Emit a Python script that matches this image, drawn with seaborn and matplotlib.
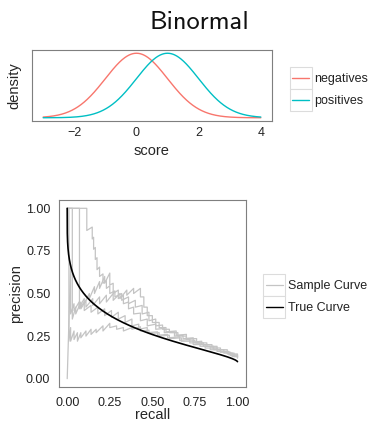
import math
import numpy as np
import pandas as pd
import matplotlib
matplotlib.use("Agg")
import matplotlib.pyplot as plt
from matplotlib.patches import Rectangle
from matplotlib.lines import Line2D
import seaborn as sns

# ---- binormal model -------------------------------------------------------
class_names = ["negatives", "positives"]
class_colors = ["#F8766D", "#00BFC4"]
class_means = [0.0, 1.0]
class_sd = 1.0
positive_share = 0.1
score_range = [-3.0, 4.0]
score_ticks = [-2, 0, 2, 4]

pr_ticks = [0.0, 0.25, 0.5, 0.75, 1.0]
pr_tick_labels = ["0.00", "0.25", "0.50", "0.75", "1.00"]
curve_names = ["Sample Curve", "True Curve"]
curve_colors = ["#c4c4c4", "black"]

# ---- empirical precision-recall paths (recall, precision) -----------------
sample_1 = [(0, 1), (0.115, 1), (0.115, 0.87), (0.147, 0.89), (0.147, 0.82),
            (0.155, 0.83), (0.155, 0.76), (0.165, 0.77), (0.165, 0.70),
            (0.175, 0.71), (0.175, 0.64), (0.19, 0.655), (0.19, 0.60),
            (0.21, 0.615), (0.21, 0.56), (0.23, 0.575), (0.23, 0.53),
            (0.25, 0.545), (0.25, 0.50), (0.28, 0.515), (0.28, 0.48),
            (0.32, 0.50), (0.32, 0.46), (0.36, 0.48), (0.36, 0.44),
            (0.40, 0.46), (0.40, 0.42), (0.44, 0.43), (0.44, 0.38),
            (0.48, 0.39), (0.48, 0.34), (0.52, 0.35), (0.52, 0.31),
            (0.56, 0.315), (0.56, 0.29), (0.60, 0.29), (0.60, 0.27),
            (0.65, 0.27), (0.65, 0.25), (0.70, 0.25), (0.70, 0.23),
            (0.75, 0.225), (0.75, 0.21), (0.80, 0.21), (0.80, 0.19),
            (0.86, 0.19), (0.86, 0.17), (0.92, 0.17), (0.92, 0.15),
            (0.97, 0.15), (0.97, 0.13), (1.0, 0.13)]
sample_2 = [(0, 1), (0.072, 1), (0.072, 0.42), (0.10, 0.47), (0.10, 0.44),
            (0.13, 0.50), (0.13, 0.47), (0.16, 0.54), (0.16, 0.50),
            (0.19, 0.57), (0.19, 0.53), (0.22, 0.60), (0.22, 0.56),
            (0.25, 0.62), (0.25, 0.55), (0.27, 0.56), (0.27, 0.50),
            (0.30, 0.52), (0.30, 0.47), (0.33, 0.49), (0.33, 0.44),
            (0.36, 0.45), (0.36, 0.41), (0.39, 0.42), (0.39, 0.38),
            (0.43, 0.385), (0.43, 0.34), (0.47, 0.35), (0.47, 0.31),
            (0.52, 0.32), (0.52, 0.29), (0.57, 0.295), (0.57, 0.27),
            (0.63, 0.275), (0.63, 0.25), (0.68, 0.255), (0.68, 0.235),
            (0.74, 0.24), (0.74, 0.215), (0.79, 0.22), (0.79, 0.20),
            (0.85, 0.20), (0.85, 0.18), (0.90, 0.18), (0.90, 0.16),
            (0.95, 0.16), (0.95, 0.14), (1.0, 0.14), (1.0, 0.125)]
sample_3 = [(0, 1), (0.03, 1), (0.03, 0.35), (0.05, 0.42), (0.05, 0.38),
            (0.08, 0.45), (0.08, 0.41), (0.11, 0.46), (0.11, 0.42),
            (0.15, 0.47), (0.15, 0.43), (0.19, 0.48), (0.19, 0.44),
            (0.23, 0.49), (0.23, 0.45), (0.27, 0.50), (0.27, 0.46),
            (0.31, 0.50), (0.31, 0.47), (0.35, 0.52), (0.35, 0.49),
            (0.39, 0.53), (0.39, 0.50), (0.43, 0.53), (0.43, 0.48),
            (0.45, 0.48), (0.45, 0.42), (0.47, 0.42), (0.47, 0.37),
            (0.50, 0.37), (0.50, 0.33), (0.54, 0.33), (0.54, 0.30),
            (0.58, 0.30), (0.58, 0.275), (0.64, 0.28), (0.64, 0.255),
            (0.70, 0.26), (0.70, 0.235), (0.76, 0.235), (0.76, 0.21),
            (0.82, 0.21), (0.82, 0.19), (0.88, 0.19), (0.88, 0.17),
            (0.94, 0.17), (0.94, 0.15), (0.98, 0.15), (0.98, 0.13),
            (1.0, 0.13)]
sample_4 = [(0, 0), (0.02, 0.67), (0.02, 0.38), (0.04, 0.44), (0.04, 0.40),
            (0.07, 0.45), (0.07, 0.41), (0.10, 0.45), (0.10, 0.40),
            (0.14, 0.43), (0.14, 0.39), (0.18, 0.42), (0.18, 0.38),
            (0.22, 0.41), (0.22, 0.37), (0.26, 0.40), (0.26, 0.36),
            (0.30, 0.39), (0.30, 0.35), (0.34, 0.37), (0.34, 0.33),
            (0.38, 0.35), (0.38, 0.31), (0.42, 0.32), (0.42, 0.29),
            (0.47, 0.30), (0.47, 0.27), (0.53, 0.275), (0.53, 0.255),
            (0.59, 0.26), (0.59, 0.24), (0.66, 0.245), (0.66, 0.225),
            (0.72, 0.23), (0.72, 0.21), (0.78, 0.21), (0.78, 0.19),
            (0.84, 0.19), (0.84, 0.17), (0.90, 0.17), (0.90, 0.155),
            (0.96, 0.155), (0.96, 0.135), (1.0, 0.135), (1.0, 0.12)]
sample_5 = [(0, 1), (0.01, 1), (0.01, 0.22), (0.02, 0.30), (0.02, 0.22),
            (0.04, 0.28), (0.04, 0.23), (0.06, 0.27), (0.06, 0.22),
            (0.08, 0.27), (0.08, 0.24), (0.11, 0.28), (0.11, 0.25),
            (0.14, 0.29), (0.14, 0.26), (0.17, 0.29), (0.17, 0.27),
            (0.21, 0.31), (0.21, 0.28), (0.25, 0.325), (0.25, 0.30),
            (0.29, 0.31), (0.29, 0.29), (0.33, 0.30), (0.33, 0.28),
            (0.38, 0.30), (0.38, 0.29), (0.43, 0.305), (0.43, 0.28),
            (0.48, 0.285), (0.48, 0.265), (0.54, 0.27), (0.54, 0.25),
            (0.60, 0.255), (0.60, 0.235), (0.67, 0.24), (0.67, 0.22),
            (0.74, 0.22), (0.74, 0.20), (0.81, 0.20), (0.81, 0.18),
            (0.88, 0.18), (0.88, 0.16), (0.94, 0.16), (0.94, 0.145),
            (1.0, 0.145), (1.0, 0.125)]
samples = [sample_1, sample_2, sample_3, sample_4, sample_5]

# ---- derived tables ----------------------------------------------------------
def upper_tail(z):
    return 0.5 * math.erfc(z / math.sqrt(2.0))

xs = np.linspace(score_range[0], score_range[1], 500)
dens_rows = []
for name, mu in zip(class_names, class_means):
    d = np.exp(-0.5 * ((xs - mu) / class_sd) ** 2) / (class_sd * math.sqrt(2 * math.pi))
    dens_rows.append(pd.DataFrame({"score": xs, "density": d, "class": name}))
dens_df = pd.concat(dens_rows, ignore_index=True)

cuts = np.linspace(12, -6, 3000)
tpr = np.array([upper_tail((c - class_means[1]) / class_sd) for c in cuts])
fpr = np.array([upper_tail((c - class_means[0]) / class_sd) for c in cuts])
prec = positive_share * tpr / (positive_share * tpr + (1 - positive_share) * fpr)
true_df = pd.DataFrame({"recall": tpr, "precision": prec})

sample_df = pd.concat(
    [pd.DataFrame({"recall": [r for r, _ in s], "precision": [p for _, p in s],
                   "sample": i}) for i, s in enumerate(samples)],
    ignore_index=True)

# ---- figure --------------------------------------------------------------------
sns.set_theme(style="white")
plt.rcParams["font.family"] = ["Liberation Sans", "DejaVu Sans"]

W, H = 369, 421
fig = plt.figure(figsize=(W / 100, H / 100), dpi=100)


def box(l, t, r, b):
    return [l / W, 1 - b / H, (r - l) / W, (b - t) / H]


frame_grey = "#7f7f7f"
tick_size = 9
label_size = 10.5


def style_axes(ax):
    for sp in ax.spines.values():
        sp.set_color(frame_grey)
        sp.set_linewidth(0.8)
    ax.tick_params(axis="both", direction="out", length=3, width=0.8,
                   color=frame_grey, labelsize=tick_size, labelcolor="#222222")


# density panel
ax1 = fig.add_axes(box(32.3, 50, 271.7, 121))
sns.lineplot(data=dens_df, x="score", y="density", hue="class",
             palette=dict(zip(class_names, class_colors)), linewidth=1.0,
             legend=False, ax=ax1)
ax1.set_xlim(-3.35, 4.35)
ax1.set_ylim(-0.02, 0.419)
ax1.set_xticks(score_ticks)
ax1.set_yticks([])
style_axes(ax1)
ax1.tick_params(axis="x", pad=1.5)
ax1.set_xlabel("score", fontsize=label_size)
ax1.set_ylabel("density", fontsize=label_size)
ax1.xaxis.set_label_coords(0.5, -0.33)
ax1.yaxis.set_label_coords(-0.045, 0.5)

# precision-recall panel
ax2 = fig.add_axes(box(58.7, 199.8, 246.0, 387.2))
sns.lineplot(data=sample_df, x="recall", y="precision", units="sample",
             estimator=None, sort=False, color=curve_colors[0], linewidth=0.9,
             ax=ax2)
sns.lineplot(data=true_df, x="recall", y="precision", estimator=None,
             sort=False, color=curve_colors[1], linewidth=1.2, ax=ax2)
ax2.set_xlim(-0.05, 1.05)
ax2.set_ylim(-0.05, 1.05)
ax2.set_xticks(pr_ticks)
ax2.set_xticklabels(pr_tick_labels)
ax2.set_yticks(pr_ticks)
ax2.set_yticklabels(pr_tick_labels)
style_axes(ax2)
ax2.tick_params(axis="x", pad=4)
ax2.tick_params(axis="y", pad=3)
ax2.set_xlabel("recall", fontsize=label_size)
ax2.set_ylabel("precision", fontsize=label_size)
ax2.xaxis.set_label_coords(0.5, -0.11)
ax2.yaxis.set_label_coords(-0.19, 0.5)

# title
fig.text(199 / W, 1 - 29 / H, "Binormal", family=["cmss10", "DejaVu Sans"],
         fontsize=19, ha="center", va="baseline", color="#111111")


# legends with boxed keys
def draw_legend(left, top, size, names, colors):
    for i, (name, col) in enumerate(zip(names, colors)):
        t = top + i * size
        fig.add_artist(Rectangle((left / W, 1 - (t + size) / H), size / W,
                                 size / H, transform=fig.transFigure,
                                 facecolor="white", edgecolor="#dcdcdc",
                                 linewidth=0.8))
        yc = 1 - (t + size / 2) / H
        fig.add_artist(Line2D([(left + 2.5) / W, (left + size - 2.5) / W],
                              [yc, yc], transform=fig.transFigure, color=col,
                              linewidth=1.0 if col != curve_colors[0] else 0.9))
        fig.text((left + size + 2.5) / W, yc, name, fontsize=tick_size,
                 ha="left", va="center_baseline", color="#222222")


draw_legend(289.5, 66.5, 22, class_names, class_colors)
draw_legend(263, 273.5, 22, curve_names, curve_colors)

fig.savefig("out.png", dpi=100)
